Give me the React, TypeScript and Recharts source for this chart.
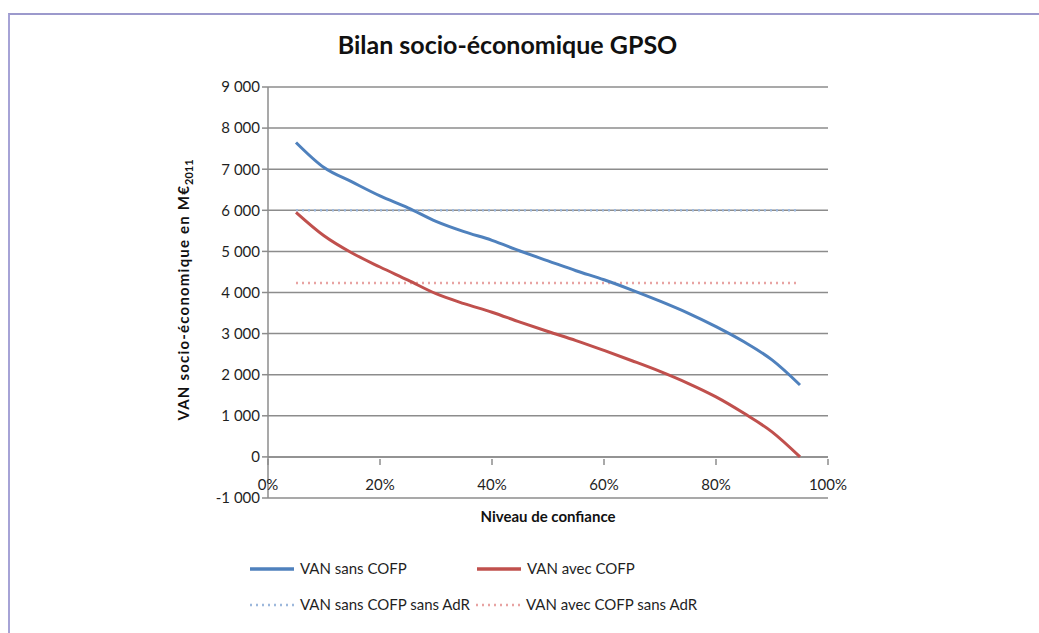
import { CartesianGrid, Line, LineChart, ReferenceLine, XAxis, YAxis } from 'recharts'

const confidence = [0.05, 0.1, 0.15, 0.2, 0.25, 0.3, 0.35, 0.4, 0.45, 0.5, 0.55, 0.6, 0.65, 0.7, 0.75, 0.8, 0.85, 0.9, 0.95]
const vanSansCofp = [7650, 7040, 6690, 6350, 6060, 5730, 5480, 5270, 5010, 4770, 4530, 4310, 4060, 3790, 3500, 3170, 2800, 2360, 1750]
const vanAvecCofp = [5950, 5380, 4960, 4620, 4300, 3970, 3730, 3520, 3280, 3050, 2830, 2590, 2340, 2080, 1790, 1460, 1060, 610, 0]
const vanSansCofpSansAdr = [6000, 6000, 6000, 6000, 6000, 6000, 6000, 6000, 6000, 6000, 6000, 6000, 6000, 6000, 6000, 6000, 6000, 6000, 6000]
const vanAvecCofpSansAdr = [4230, 4230, 4230, 4230, 4230, 4230, 4230, 4230, 4230, 4230, 4230, 4230, 4230, 4230, 4230, 4230, 4230, 4230, 4230]

const xTicks = [0, 0.2, 0.4, 0.6, 0.8, 1]
const yTicks = [-1000, 0, 1000, 2000, 3000, 4000, 5000, 6000, 7000, 8000, 9000]

const data = confidence.map((c, i) => ({
  c,
  sans: vanSansCofp[i],
  avec: vanAvecCofp[i],
  sansAdr: vanSansCofpSansAdr[i],
  avecAdr: vanAvecCofpSansAdr[i],
}))

const FONT = 'Lato, "Open Sans", sans-serif'
const TEXT = '#1f1f1f'
const GRID = '#8c8c8c'

const yTickFormatter = (v: number) => {
  const s = Math.abs(v).toString().replace(/\B(?=(\d{3})+(?!\d))/g, ' ')
  return (v < 0 ? '-' : '') + s
}

// x axis crosses at 0, so tick marks sit one band above the bottom edge
const XTick = ({ x, y, payload }: any) => (
  <g>
    <line x1={x} x2={x} y1={y - 41} y2={y - 35} stroke={GRID} strokeWidth={1.5} />
    <text x={x} y={y - 10} textAnchor="middle" fill={TEXT} fontSize={15} fontFamily={FONT}>
      {Math.round(payload.value * 100)}%
    </text>
  </g>
)

const legendItems = [
  { label: 'VAN sans COFP', color: '#4f81bd', dash: undefined, x: 250, y: 0 },
  { label: 'VAN avec COFP', color: '#c0504d', dash: undefined, x: 477, y: 0 },
  { label: 'VAN sans COFP sans AdR', color: '#9db8dc', dash: '2 4', x: 250, y: 36 },
  { label: 'VAN avec COFP sans AdR', color: '#e8a3a2', dash: '2 4', x: 476, y: 36 },
]

const ChartLegend = () => (
  <svg width={1031} height={60} style={{ position: 'absolute', left: 0, top: 555 }}>
    {legendItems.map((it) => (
      <g key={it.label}>
        <line
          x1={it.x}
          x2={it.x + 44}
          y1={it.y + 14}
          y2={it.y + 14}
          stroke={it.color}
          strokeWidth={it.dash ? 2.5 : 3.5}
          strokeDasharray={it.dash}
        />
        <text x={it.x + 50} y={it.y + 19} fill={TEXT} fontSize={15} fontFamily={FONT}>
          {it.label}
        </text>
      </g>
    ))}
  </svg>
)

export default function App() {
  return (
    <div
      style={{
        position: 'absolute',
        left: 0,
        top: 0,
        width: 1039,
        height: 633,
        background: '#fff',
        overflow: 'hidden',
      }}
    >
      <div
        style={{
          position: 'absolute',
          left: 8,
          top: 13,
          width: 1029,
          height: 618,
          borderLeft: '2px solid #a6a3d6',
          borderTop: '2px solid #9c99cc',
        }}
      />
      <div
        style={{
          position: 'absolute',
          left: 0,
          top: 29,
          width: 1015,
          textAlign: 'center',
          fontFamily: FONT,
          fontWeight: 700,
          fontSize: 25,
          color: '#111',
        }}
      >
        Bilan socio-économique GPSO
      </div>
      <svg width={40} height={400} style={{ position: 'absolute', left: 164, top: 90 }}>
        <text
          transform="translate(25, 200) rotate(-90)"
          textAnchor="middle"
          fill="#111"
          fontSize={15}
          fontWeight={700}
          fontFamily={FONT}
          letterSpacing={1.2}
        >
          VAN socio-économique  en M€
          <tspan fontSize={11} dy={4} letterSpacing={0}>2011</tspan>
        </text>
      </svg>
      <div
        style={{
          position: 'absolute',
          left: 0,
          top: 507,
          width: 1096,
          textAlign: 'center',
          fontFamily: FONT,
          fontWeight: 700,
          fontSize: 15,
          color: '#111',
        }}
      >
        Niveau de confiance
      </div>
      <LineChart
        width={1039}
        height={633}
        data={data}
        margin={{ top: 87, right: 211, left: 208, bottom: 105 }}
        style={{ position: 'absolute', left: 0, top: 0 }}
      >
        <CartesianGrid vertical={false} stroke={GRID} strokeWidth={1.5} />
        <XAxis
          dataKey="c"
          type="number"
          domain={[0, 1]}
          ticks={xTicks}
          tick={<XTick />}
          axisLine={false}
          tickLine={false}
          tickSize={0}
          height={30}
          interval={0}
        />
        <YAxis
          domain={[-1000, 9000]}
          ticks={yTicks}
          tickFormatter={yTickFormatter}
          width={60}
          interval={0}
          axisLine={{ stroke: GRID, strokeWidth: 1.5 }}
          tickLine={{ stroke: GRID, strokeWidth: 1.5 }}
          tickSize={6}
          tick={{ fill: TEXT, fontSize: 15, fontFamily: FONT }}
        />
        <ReferenceLine y={0} stroke={GRID} strokeWidth={1.5} />
        <Line dataKey="sansAdr" stroke="#9db8dc" strokeWidth={2.5} strokeDasharray="2 4" dot={false} isAnimationActive={false} />
        <Line dataKey="avecAdr" stroke="#e8a3a2" strokeWidth={2.5} strokeDasharray="2 4" dot={false} isAnimationActive={false} />
        <Line dataKey="sans" type="monotone" stroke="#4f81bd" strokeWidth={3} dot={false} isAnimationActive={false} />
        <Line dataKey="avec" type="monotone" stroke="#c0504d" strokeWidth={3} dot={false} isAnimationActive={false} />
      </LineChart>
      <ChartLegend />
    </div>
  )
}
